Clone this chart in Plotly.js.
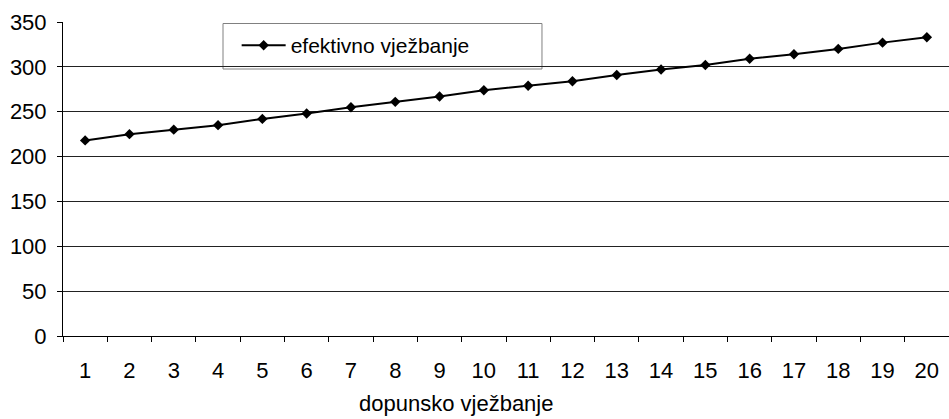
<!DOCTYPE html>
<html>
<head>
<meta charset="utf-8">
<script src="https://cdn.plot.ly/plotly-3.0.1.min.js"></script>
<style>html,body{margin:0;padding:0;background:#fff;}#chart{width:949px;height:419px;}</style>
</head>
<body>
<div id="chart"></div>
<script>
var categories = ["1","2","3","4","5","6","7","8","9","10","11","12","13","14","15","16","17","18","19","20"];
var efektivno = [218, 225, 230, 235, 242, 248, 255, 261, 267, 274, 279, 284, 291, 297, 302, 309, 314, 320, 327, 333];
var seriesName = "efektivno vježbanje";
var xTitle = "dopunsko vježbanje";

var FONT = "Liberation Sans, Arial, sans-serif";

var trace = {
  x: categories,
  y: efektivno,
  type: "scatter",
  mode: "lines+markers",
  name: seriesName,
  line: {color: "#000", width: 2},
  marker: {symbol: "diamond", size: 8, color: "#000"}
};

var layout = {
  width: 949,
  height: 419,
  margin: {l: 63, r: 0, t: 22, b: 83},
  paper_bgcolor: "#fff",
  plot_bgcolor: "#fff",
  font: {family: FONT, color: "#000"},
  showlegend: true,
  legend: {
    x: 0.196, y: 0.99, xanchor: "left", yanchor: "top",
    bgcolor: "rgba(0,0,0,0)", borderwidth: 0,
    font: {family: FONT, size: 21, color: "#000"},
    itemwidth: 44
  },
  xaxis: {
    type: "category",
    range: [-0.5, 19.5],
    showline: true, linecolor: "#000", linewidth: 1,
    ticks: "outside", ticklen: 5, tickcolor: "#000",
    tickson: "boundaries",
    ticklabelstandoff: 15,
    tickfont: {family: FONT, size: 22, color: "#000"},
    showgrid: false, zeroline: false, fixedrange: true
  },
  yaxis: {
    range: [0, 350],
    dtick: 50,
    showline: true, linecolor: "#000", linewidth: 1,
    ticks: "outside", ticklen: 5, tickcolor: "#000",
    ticklabelstandoff: 6,
    tickfont: {family: FONT, size: 22, color: "#000"},
    showgrid: true, gridcolor: "#222", gridwidth: 1,
    zeroline: false, fixedrange: true
  },
  shapes: [{
    type: "rect", xref: "paper", yref: "paper",
    x0: 0.1806, x1: 0.5406, y0: 0.8503, y1: 0.9952,
    line: {color: "#808080", width: 1}, fillcolor: "#fff", layer: "below"
  }],
  annotations: [{
    text: xTitle, xref: "paper", yref: "paper",
    x: 0.4436, y: -0.215, xanchor: "center", yanchor: "middle",
    showarrow: false, borderpad: 0, font: {family: FONT, size: 22, color: "#000"}
  }]
};

Plotly.newPlot("chart", [trace], layout, {displayModeBar: false, staticPlot: true});
</script>
</body>
</html>
